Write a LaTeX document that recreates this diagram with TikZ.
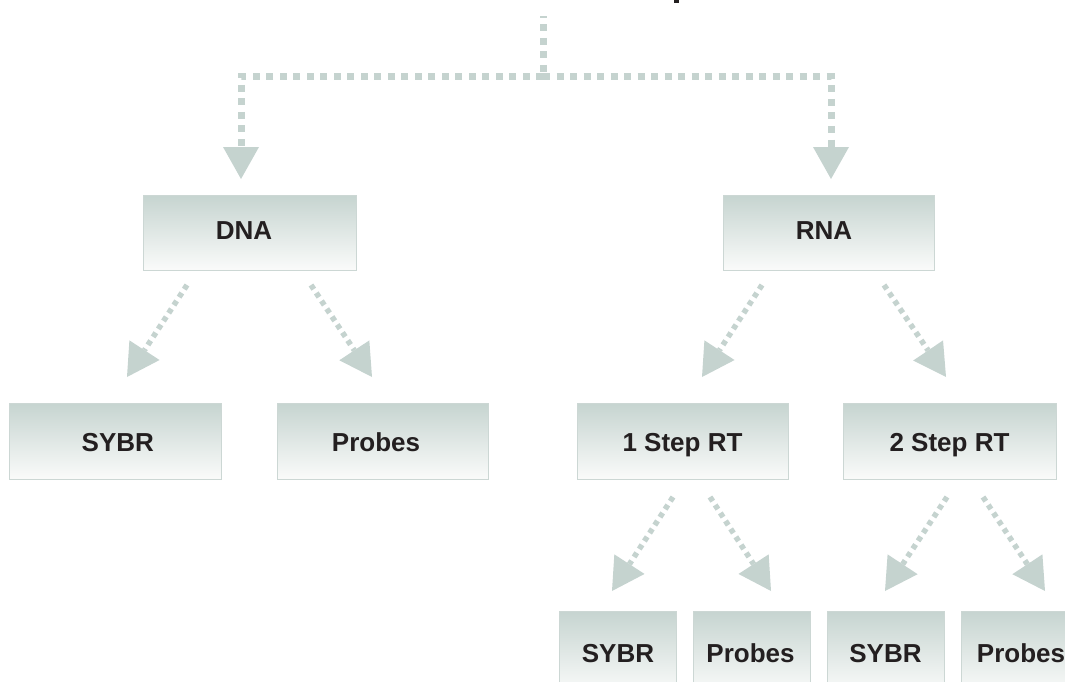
\documentclass[tikz,border=0pt]{standalone}
\usepackage{fontspec}
\setmainfont{Liberation Sans}
\usetikzlibrary{arrows.meta}

\definecolor{flow}{HTML}{C5D3CF}
\definecolor{boxtop}{HTML}{C6D4D0}
\definecolor{boxbottom}{HTML}{FAFBFA}
\definecolor{boxline}{HTML}{CCD7D4}
\definecolor{ink}{HTML}{231F20}

\tikzset{
  box/.style={rectangle, draw=boxline, line width=1pt, inner sep=0pt, outer sep=0pt,
              top color=boxtop, bottom color=boxbottom},
  lbl/.style={anchor=base, inner sep=0pt, text=ink,
              font=\fontsize{26}{30}\selectfont\bfseries},
  tip/.style={-{Triangle[width=36pt,length=32pt,line width=0pt]}},
  trunk/.style={draw=flow, line width=7pt, dash pattern=on 7pt off 6.5pt},
  branch/.style={draw=flow, line width=5.5pt, dash pattern=on 5pt off 4.5pt, tip},
}

\begin{document}
\begin{tikzpicture}[x=1pt, y=-1pt]
\useasboundingbox (0,0) rectangle (1065,682);
\clip (0,0) rectangle (1065,682);

% tail of the heading cut by the top edge
\fill[ink] (674,0) rectangle (679,3.5);

% boxes
\node[box, minimum width=213pt, minimum height=75pt] (dna)     at (249.5,232.5) {};
\node[box, minimum width=211pt, minimum height=75pt] (rna)     at (828.5,232.5) {};
\node[box, minimum width=212pt, minimum height=76pt] (sybrA)   at (115.5,441) {};
\node[box, minimum width=211pt, minimum height=76pt] (probesA) at (382.5,441) {};
\node[box, minimum width=211pt, minimum height=76pt] (oneRT)   at (682.5,441) {};
\node[box, minimum width=213pt, minimum height=76pt] (twoRT)   at (949.5,441) {};
\node[box, minimum width=117pt, minimum height=82pt] (sybrB)   at (617.5,652) {};
\node[box, minimum width=117pt, minimum height=82pt] (probesB) at (751.5,652) {};
\node[box, minimum width=117pt, minimum height=82pt] (sybrC)   at (885.5,652) {};
\node[box, minimum width=117pt, minimum height=82pt] (probesC) at (1019.5,652) {};

% labels
\node[lbl] (dnaT)     at (244,239)     {DNA};
\node[lbl] (rnaT)     at (824,239)     {RNA};
\node[lbl] (sybrAT)   at (117.8,451)   {SYBR};
\node[lbl] (probesAT) at (376,451)     {Probes};
\node[lbl] (oneRTT)   at (682.5,451.5) {1 Step RT};
\node[lbl] (twoRTT)   at (949.5,451.5) {2 Step RT};
\node[lbl] (sybrBT)   at (618,662)     {SYBR};
\node[lbl] (probesBT) at (750.5,662)   {Probes};
\node[lbl] (sybrCT)   at (885.5,662)   {SYBR};
\node[lbl] (probesCT) at (1021,662)    {Probes};

% connector ends
\coordinate (top)   at (543,16.5);
\coordinate (hub)   at (543,76.5);
\coordinate (dnaIn) at (241,179);
\coordinate (rnaIn) at (831,179);

\coordinate (dnaL)  at (187,285);  \coordinate (sybrAIn)   at (127,377);
\coordinate (dnaR)  at (311,285);  \coordinate (probesAIn) at (372,377);
\coordinate (rnaL)  at (762,285);  \coordinate (oneIn)     at (702,377);
\coordinate (rnaR)  at (884,285);  \coordinate (twoIn)     at (946,377);
\coordinate (oneL)  at (673,497);  \coordinate (sybrBIn)   at (612,591);
\coordinate (oneR)  at (710,497);  \coordinate (probesBIn) at (771,591);
\coordinate (twoL)  at (947,497);  \coordinate (sybrCIn)   at (885,591);
\coordinate (twoR)  at (983,497);  \coordinate (probesCIn) at (1045,591);

% trunk
\draw[trunk, dash phase=5.5pt] (top) -- (hub);
\draw[trunk, tip] (hub) -| (dnaIn);
\draw[trunk, tip] (hub) -| (rnaIn);

% branches
\draw[branch] (dnaL) -- (sybrAIn);
\draw[branch] (dnaR) -- (probesAIn);
\draw[branch] (rnaL) -- (oneIn);
\draw[branch] (rnaR) -- (twoIn);
\draw[branch] (oneL) -- (sybrBIn);
\draw[branch] (oneR) -- (probesBIn);
\draw[branch] (twoL) -- (sybrCIn);
\draw[branch] (twoR) -- (probesCIn);
\end{tikzpicture}
\end{document}
